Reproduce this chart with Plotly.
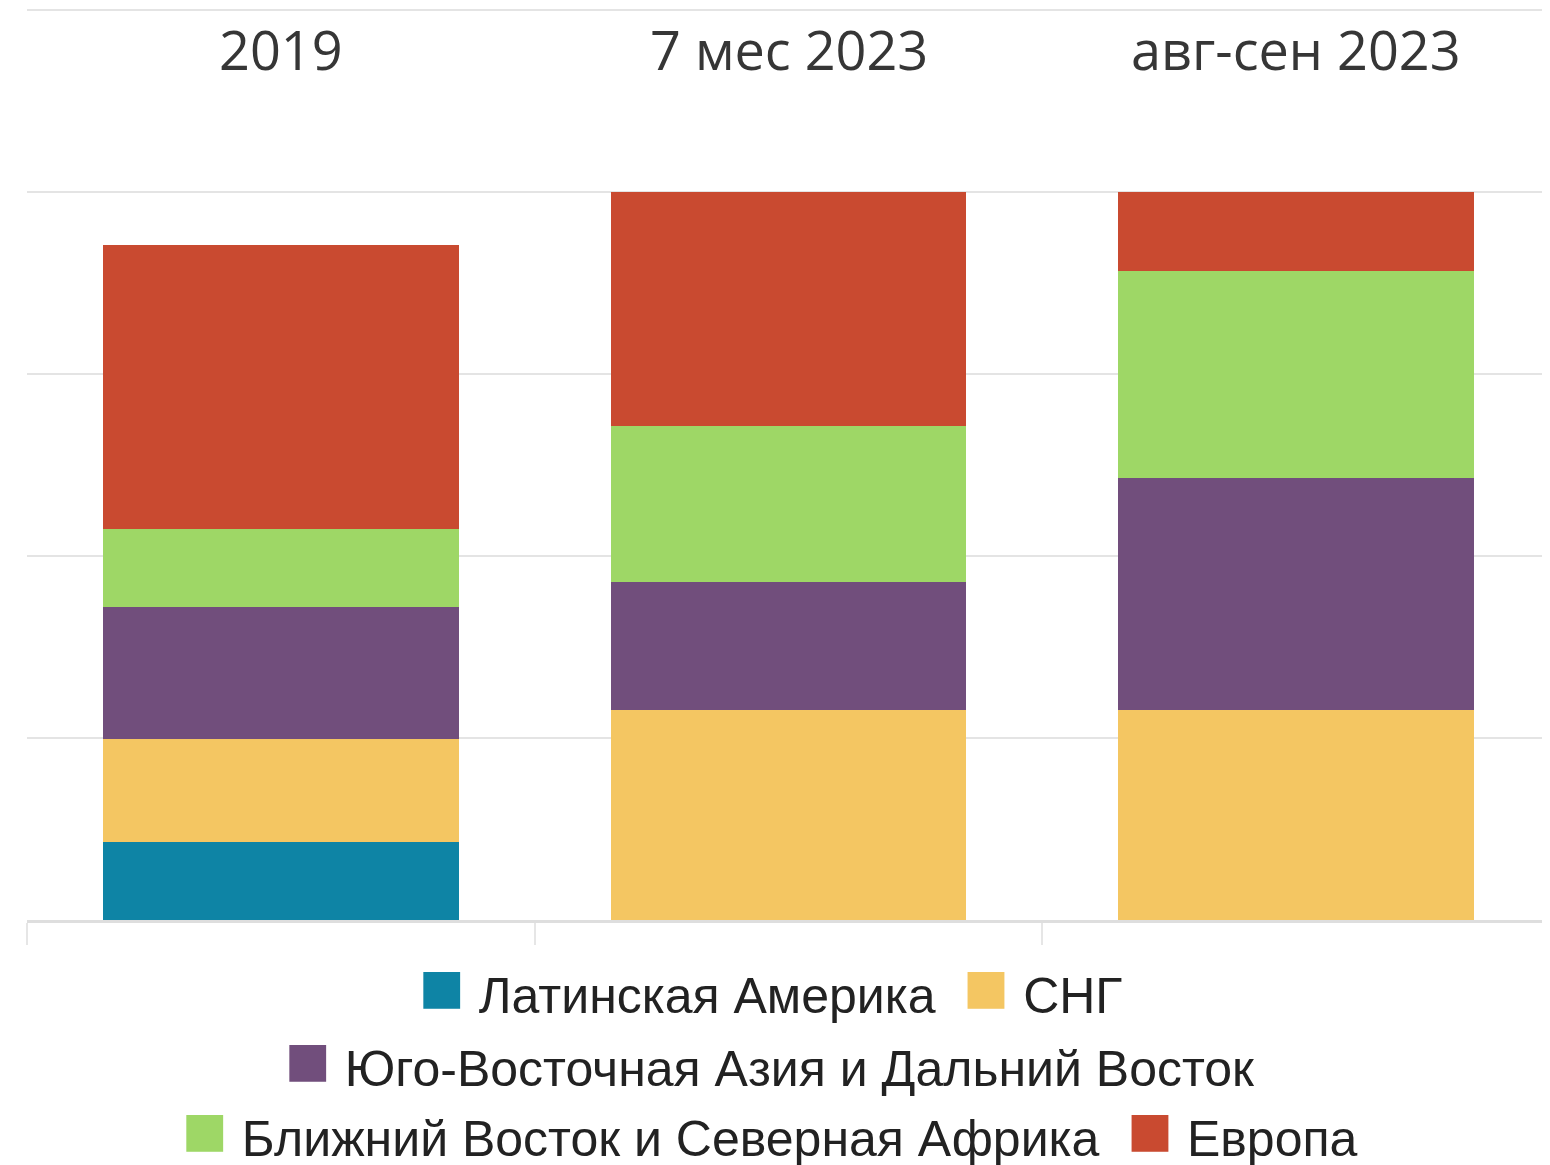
import plotly.graph_objects as go

categories = ["2019", "7 мес 2023", "авг-сен 2023"]
series_names = [
    "Латинская Америка",
    "СНГ",
    "Юго-Восточная Азия и Дальний Восток",
    "Ближний Восток и Северная Африка",
    "Европа",
]
latam = [10.7, 0, 0]
sng = [14.2, 28.8, 28.8]
sea = [18.1, 17.6, 31.9]
mena = [10.7, 21.5, 28.5]
europe = [39.1, 32.1, 10.8]
colors = ["#0e84a5", "#f4c662", "#714e7c", "#9ed766", "#c94a30"]

series_values = [latam, sng, sea, mena, europe]

fig = go.Figure()
for name, vals, col in zip(series_names, series_values, colors):
    fig.add_trace(go.Bar(x=categories, y=vals, name=name, marker=dict(color=col, line=dict(width=0)),
                         showlegend=False))

# category labels on top (category axis: position by index)
for i, c in enumerate(categories):
    fig.add_annotation(x=i, xref="x", y=0.955, yref="paper", text=c, showarrow=False,
                       font=dict(family="Open Sans, DejaVu Sans, sans-serif", size=54, color="#363636"),
                       xanchor="center", yanchor="middle")

# legend rows (centered)
sp = "\u00a0"
def item(i):
    return f'<span style="color:{colors[i]};font-size:76px">■</span>{sp}{series_names[i]}'
rows = [[0, 1], [2], [3, 4]]
row_y = [-0.073, -0.1525, -0.2295]
for r, yy in zip(rows, row_y):
    txt = (sp * 2).join(item(i) for i in r)
    fig.add_annotation(x=0.488, xref="paper", y=yy, yref="paper", text=txt, showarrow=False,
                       font=dict(family="Liberation Sans, Arial, sans-serif", size=50, color="#222222"),
                       xanchor="center", yanchor="middle")

fig.update_layout(
    barmode="stack",
    bargap=0.30,
    width=1542, height=1157,
    margin=dict(l=19, r=0, t=0, b=245, autoexpand=False),
    paper_bgcolor="white", plot_bgcolor="white",
    showlegend=False,
)
fig.update_yaxes(range=[0, 125.3], tick0=0, dtick=25, showticklabels=False, showgrid=True,
                 gridcolor="#e4e4e4", gridwidth=2, zeroline=False, showline=False, ticks="")
fig.update_xaxes(type="category", showticklabels=False, showline=True, linecolor="#dedede", linewidth=3,
                 ticks="outside", tickson="boundaries", ticklen=22, tickwidth=2, tickcolor="#e6e6e6",
                 showgrid=False)

fig.write_html("out.html")
